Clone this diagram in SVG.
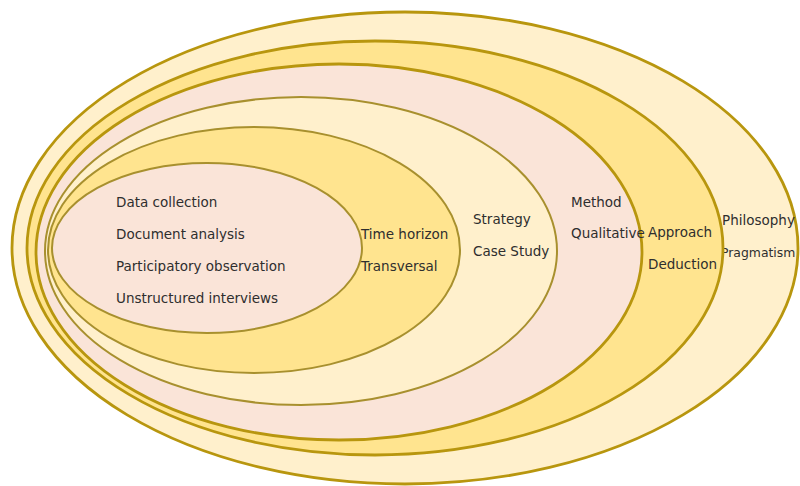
<svg xmlns="http://www.w3.org/2000/svg" width="800" height="486" viewBox="0 0 800 486">
  <style>
    .ring { stroke: #B8960E; stroke-width: 2.8; }
    .inner { stroke: #A8902E; stroke-width: 2; }
    .cream { fill: #FFF0CC; }
    .gold { fill: #FFE48F; }
    .pink { fill: #FAE4D8; }
    text { font-family: "DejaVu Sans", Verdana, sans-serif; font-size: 13.5px; fill: #2E2E2E; }
    .edge { font-size: 12.4px; }
  </style>
  <rect width="800" height="486" fill="#FFFFFF"/>

  <!-- research onion: outermost layer first -->
  <g id="philosophy">
    <ellipse class="ring cream" cx="405" cy="248" rx="393" ry="236"/>
    <text x="722" y="225">Philosophy</text>
    <text class="edge" x="721" y="257">Pragmatism</text>
  </g>

  <g id="approach">
    <ellipse class="ring gold" cx="375" cy="248" rx="348" ry="207"/>
    <text x="648" y="237">Approach</text>
    <text x="648" y="269">Deduction</text>
  </g>

  <g id="method">
    <ellipse class="ring pink" cx="339" cy="252" rx="303" ry="188"/>
    <text x="571" y="207">Method</text>
    <text x="571" y="238">Qualitative</text>
  </g>

  <g id="strategy">
    <ellipse class="inner cream" cx="301" cy="251" rx="256" ry="154"/>
    <text x="473" y="224">Strategy</text>
    <text x="473" y="256">Case Study</text>
  </g>

  <g id="time-horizon">
    <ellipse class="inner gold" cx="254" cy="250" rx="206" ry="123"/>
    <text x="361" y="239">Time horizon</text>
    <text x="361" y="271">Transversal</text>
  </g>

  <g id="data-collection">
    <ellipse class="inner pink" cx="207" cy="248" rx="155" ry="85"/>
    <text x="116" y="207">Data collection</text>
    <text x="116" y="239">Document analysis</text>
    <text x="116" y="271">Participatory observation</text>
    <text x="116" y="303">Unstructured interviews</text>
  </g>

  <g id="connectors"/>
</svg>
